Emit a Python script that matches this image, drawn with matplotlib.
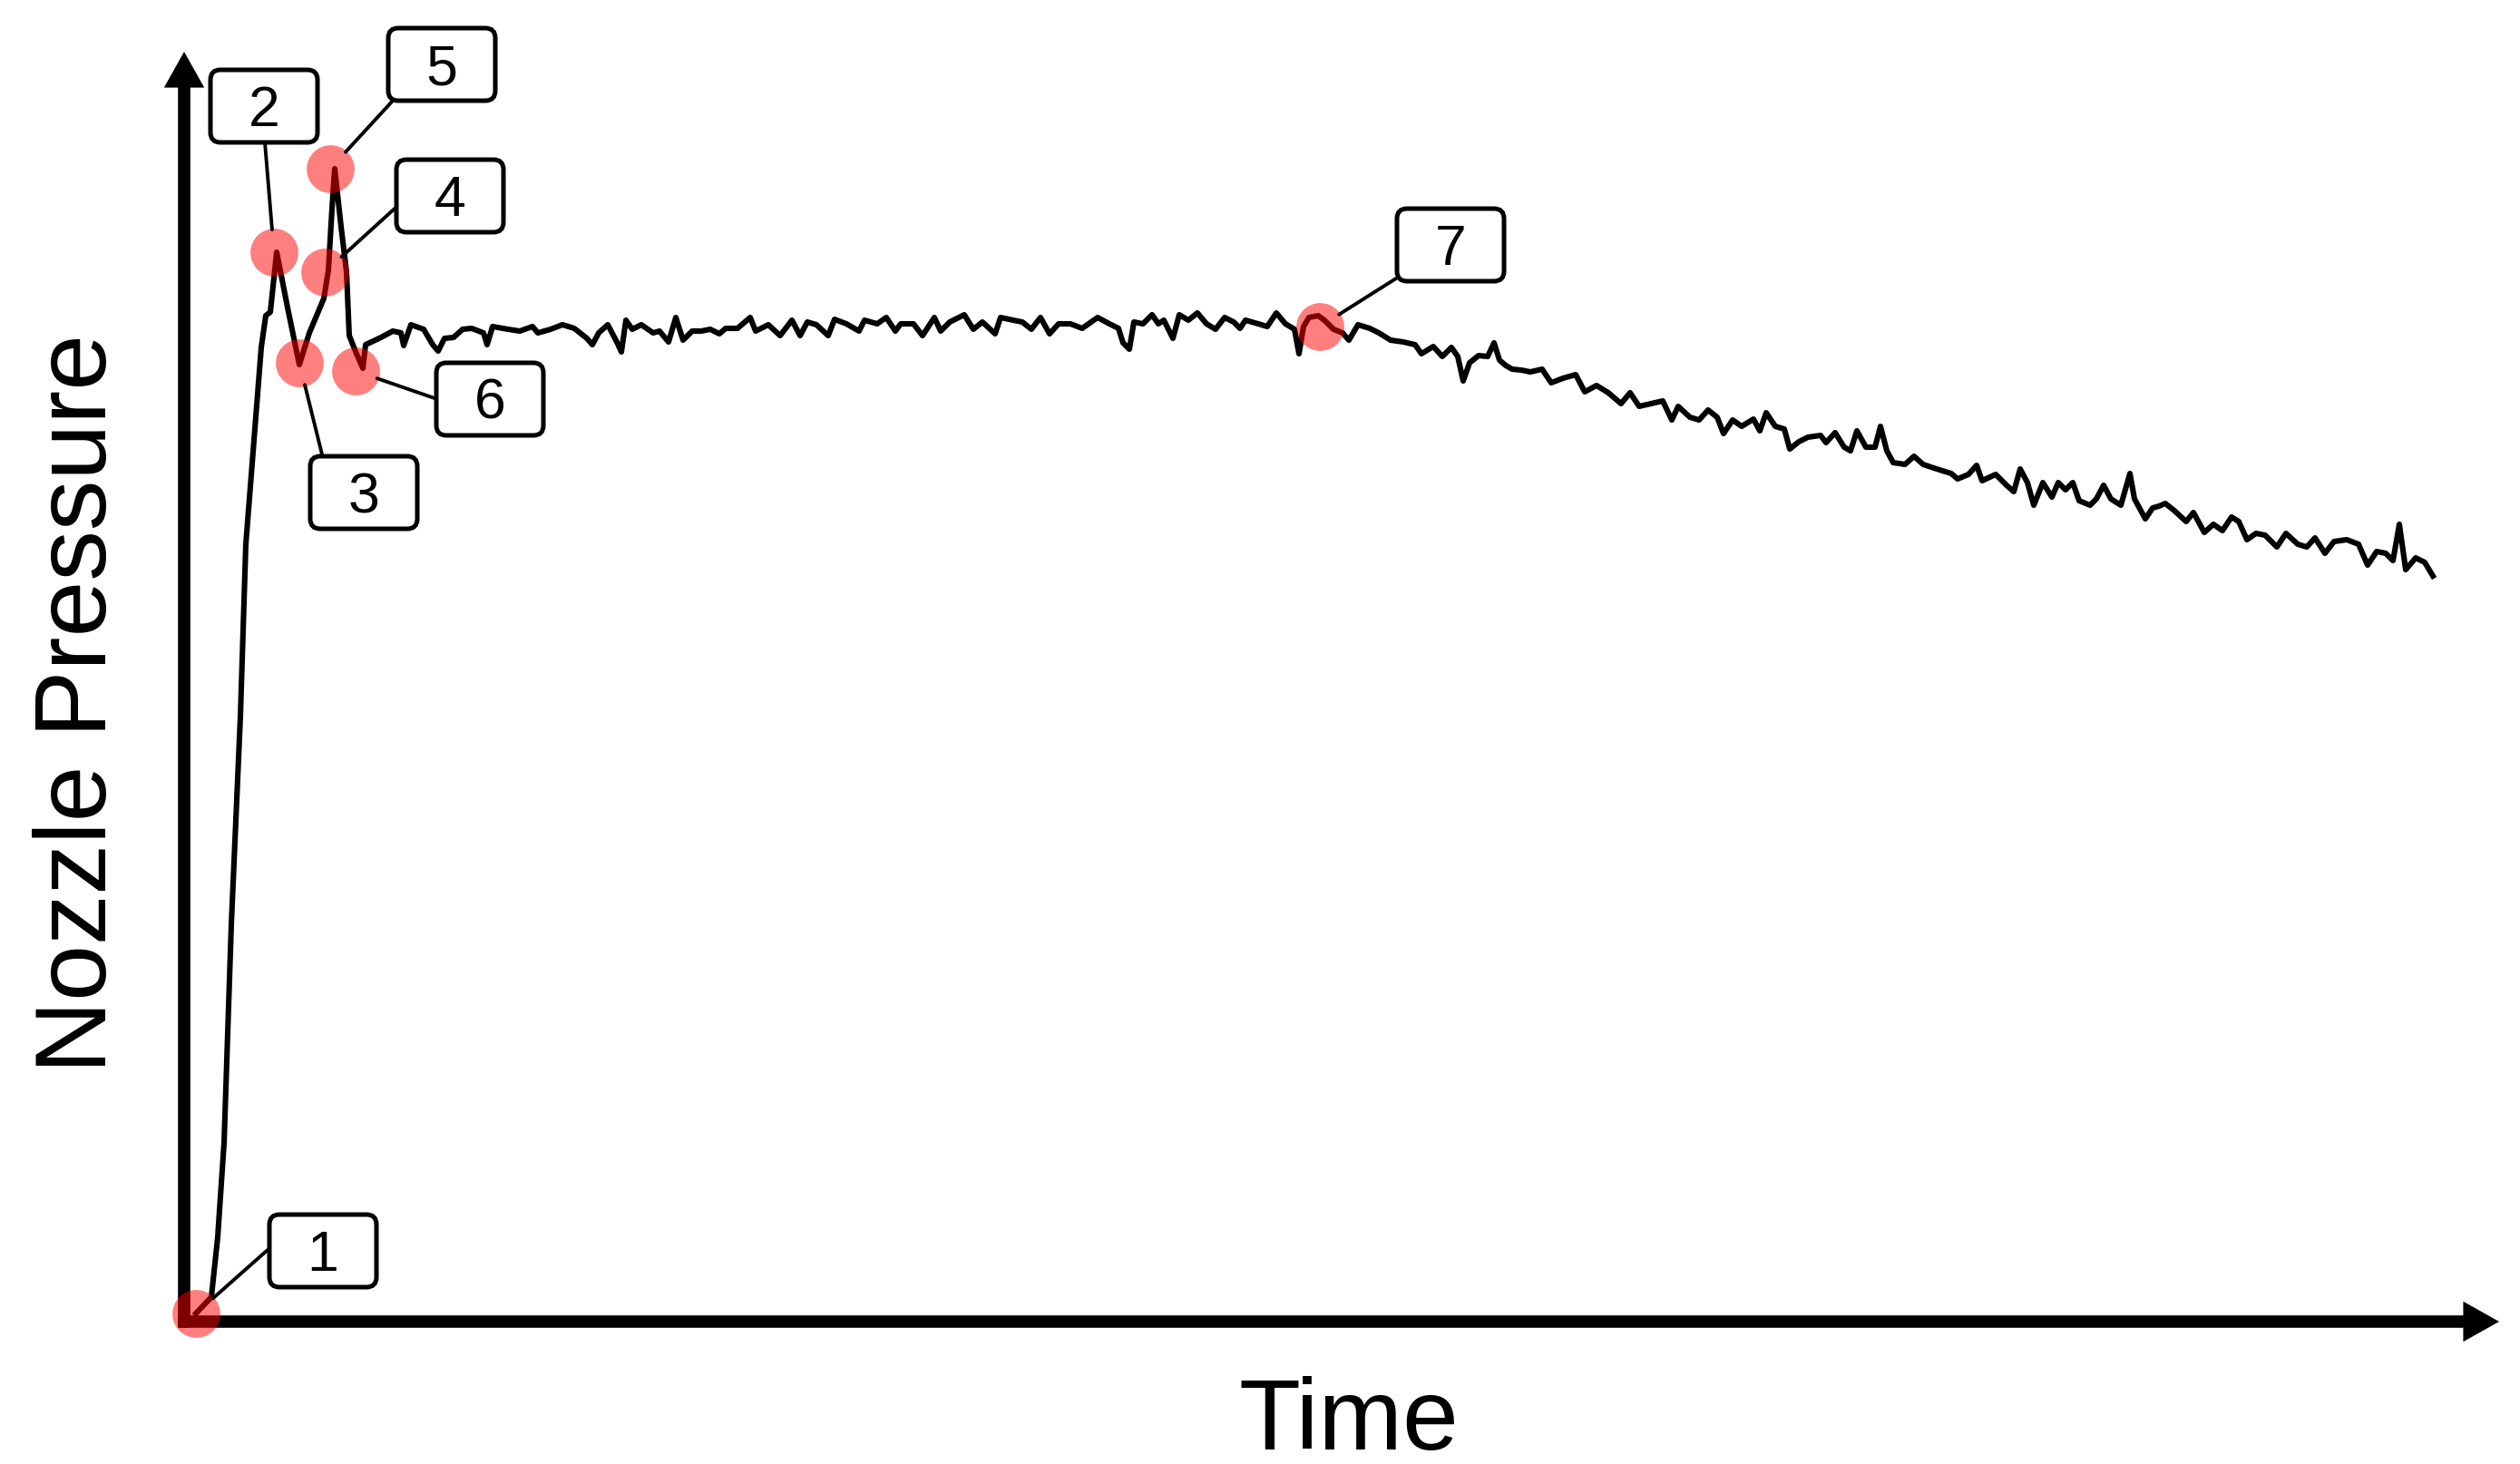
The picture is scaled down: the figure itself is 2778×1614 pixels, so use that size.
import matplotlib
matplotlib.use("Agg")
import matplotlib.pyplot as plt
from matplotlib.patches import FancyBboxPatch
import numpy as np

plt.rcParams['font.family'] = ['Liberation Sans', 'DejaVu Sans']

# ---------------- data (time in ms, pressure in arbitrary units) ----------------
time_ms = [
    0, 17, 24, 31, 39, 49, 55, 66, 72, 77, 82, 89, 102, 114, 125, 141, 146, 150, 153, 160, 166, 169, 177, 184,
    187, 204, 217, 226, 229, 237, 251, 261, 267, 274, 284, 294, 304, 317, 321, 327, 344, 357, 371, 377, 391,
    404, 417, 431, 437, 444, 454, 464, 469, 474, 481, 491, 504, 511, 521, 529, 537, 547, 557, 567, 577,
    584, 597, 611, 617, 631, 644, 657, 666, 674, 684, 697, 704, 717, 731, 737, 751, 761, 771, 777, 791,
    801, 814, 821, 831, 847, 857, 867, 881, 887, 901, 911, 921, 931, 941, 951, 964, 977, 994, 1007, 1017, 1022,
    1029, 1034, 1044, 1054, 1061, 1067, 1077, 1084, 1094, 1104, 1114, 1124, 1134, 1144, 1151, 1157, 1171,
    1181, 1191, 1201, 1211, 1216, 1221, 1227, 1237, 1244, 1254, 1264, 1271, 1281, 1294, 1304, 1317, 1331,
    1344, 1351, 1364, 1374, 1384, 1391, 1397, 1404, 1414, 1424, 1431, 1437, 1444, 1451, 1461,
    1471, 1484, 1494, 1507, 1521, 1531, 1544, 1557, 1571, 1581, 1591, 1604, 1617, 1627, 1634, 1647, 1657,
    1667, 1677, 1684, 1694, 1704, 1717, 1724, 1731, 1741, 1751, 1757, 1767, 1777, 1791, 1797, 1807, 1817,
    1824, 1831, 1841, 1851, 1857, 1864, 1871, 1884, 1894,
    1904, 1919, 1935, 1942, 1954, 1963, 1969, 1984, 1996, 2004, 2011, 2019, 2026, 2036, 2046, 2053, 2061,
    2069, 2076, 2088, 2095, 2103, 2111, 2122, 2132, 2137, 2149, 2157,
    2164, 2171, 2181, 2194, 2202, 2214, 2224, 2234, 2244, 2252, 2261, 2271, 2281, 2294, 2304, 2317, 2327,
    2336, 2347, 2357, 2371, 2384, 2394, 2404, 2414, 2422, 2429, 2436, 2447, 2457, 2466,
]
pressure = [
    0, 18, 84, 188, 429, 658, 848, 989, 1065, 1100, 1104, 1170, 1104, 1046, 1081, 1119, 1150, 1218, 1262, 1198, 1148, 1078, 1058, 1042,
    1068, 1076, 1083, 1081, 1067, 1090, 1085, 1068, 1061, 1075, 1076, 1085, 1086, 1081, 1068, 1088, 1085, 1083, 1088, 1081, 1085,
    1090, 1086, 1075, 1068, 1081, 1090, 1071, 1060, 1095, 1085, 1090, 1081, 1083, 1071, 1098, 1073, 1083, 1083, 1085, 1080,
    1086, 1086, 1098, 1083, 1090, 1078, 1095, 1078, 1093, 1090, 1078, 1096, 1091, 1083, 1095, 1091, 1098, 1083, 1091, 1091,
    1078, 1098, 1083, 1093, 1101, 1085, 1093, 1080, 1098, 1095, 1093, 1085, 1098, 1080, 1091, 1091, 1086, 1098, 1091, 1086, 1070,
    1063, 1093, 1091, 1101, 1091, 1095, 1075, 1101, 1095, 1103, 1091, 1085, 1098, 1093, 1086, 1095, 1091,
    1088, 1103, 1091, 1085, 1058, 1088, 1098, 1100, 1095, 1085, 1081, 1073, 1090, 1086, 1081, 1073, 1071,
    1068, 1058, 1066, 1055, 1065, 1055, 1028, 1048, 1056, 1055, 1070, 1051, 1045, 1041, 1040,
    1038, 1041, 1026, 1031, 1035, 1016, 1023, 1015, 1003, 1015, 1000, 1003, 1006, 985, 1000, 988, 985,
    996, 988, 970, 985, 978, 986, 973, 993, 978, 975, 953, 961, 966, 968, 960, 971, 955,
    951, 973, 955, 955, 978, 951, 938, 936, 945,
    936, 931, 926, 920, 925, 935, 918, 925, 913, 906, 931, 916, 891, 916, 900, 916, 908,
    916, 896, 891, 898, 913, 898, 891, 926, 898, 876, 888,
    890, 893, 885, 873, 883, 861, 870, 863, 878, 873, 853, 860, 858, 845, 860, 848, 845,
    855, 838, 851, 853, 848, 825, 840, 838, 830, 870, 820, 833, 828, 813,
]

event_labels = ['1', '2', '3', '4', '5', '6', '7']
event_time = [0, 86, 114, 142, 148, 176, 1239]
event_pressure = [0, 1170, 1048, 1148, 1262, 1039, 1088]

# ---------------- layout (label boxes and leader starts, data units) ----------------
box_centers = [(140, 69), (75, 1331), (185, 905), (280, 1232), (271, 1377), (324, 1008), (1383, 1178)]
leader_starts = [(79, 70), (76, 1291), (139, 947), (219, 1218), (217, 1337), (266, 1008), (1323, 1141)]
BOX_W, BOX_H = 118, 80

W, H, DPI = 2778, 1614, 100
fig = plt.figure(figsize=(W / DPI, H / DPI), dpi=DPI)
fig.patch.set_facecolor('white')
ax = fig.add_axes([203 / W, (H - 1457) / H, (2755 - 203) / W, (1457 - 57) / H])
ax.set_xlim(-13, 2539)
ax.set_ylim(-9, 1391)
ax.axis('off')

# axes with arrows
ax.plot([0, 0.985], [0, 0], transform=ax.transAxes, color='black', lw=9.8,
        solid_capstyle='projecting', clip_on=False, zorder=2)
ax.plot([0, 0], [0, 0.975], transform=ax.transAxes, color='black', lw=9.8,
        solid_capstyle='projecting', clip_on=False, zorder=2)
head = dict(arrowstyle='-|>,head_length=2.85,head_width=1.6', mutation_scale=10,
            lw=0, color='black', shrinkA=0, shrinkB=0)
ax.annotate('', xy=(1, 0), xytext=(0.95, 0), xycoords='axes fraction',
            textcoords='axes fraction', arrowprops=head, zorder=2, annotation_clip=False)
ax.annotate('', xy=(0, 1), xytext=(0, 0.9), xycoords='axes fraction',
            textcoords='axes fraction', arrowprops=head, zorder=2, annotation_clip=False)

# pressure trace
ax.plot(time_ms, pressure, color='black', lw=4.4, solid_joinstyle='round',
        clip_on=False, zorder=3)

# event markers
ax.plot(event_time, event_pressure, 'o', ms=38, color='red', alpha=0.5,
        mec='none', clip_on=False, zorder=4)

# labels with leaders
for lab, (et, ep), (cx, cy), (sx, sy) in zip(event_labels, zip(event_time, event_pressure),
                                             box_centers, leader_starts):
    ax.annotate('', xy=(et, ep), xytext=(sx, sy),
                arrowprops=dict(arrowstyle='-', lw=2.8, color='black',
                                shrinkA=0, shrinkB=18),
                zorder=5, annotation_clip=False)
    box = FancyBboxPatch((cx - BOX_W / 2, cy - BOX_H / 2), BOX_W, BOX_H,
                         boxstyle='round,pad=0,rounding_size=11',
                         fc='white', ec='black', lw=3.6, clip_on=False, zorder=6)
    ax.add_patch(box)
    ax.text(cx, cy - 22, lab, ha='center', va='baseline', fontsize=45,
            color='black', zorder=7)

# axis titles
fig.text(1487 / W, (H - 1598) / H, 'Time', ha='center', va='baseline',
         fontsize=80, color='black')
fig.text(117 / W, (H - 775) / H, 'Nozzle Pressure', ha='center', va='baseline',
         rotation=90, rotation_mode='anchor', fontsize=80, color='black')

fig.savefig('out.png', dpi=DPI, facecolor='white')
